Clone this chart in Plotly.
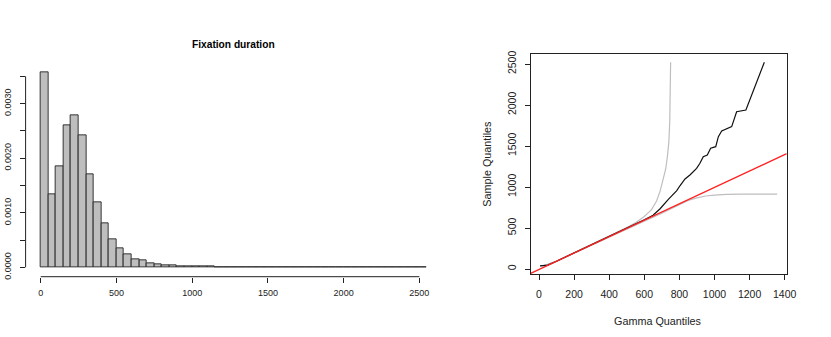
import plotly.graph_objects as go

# --- histogram of fixation durations (density, bins of 50 ms) ---
bin_edges = list(range(0, 2600, 50))
density = [0.00357, 0.00133, 0.00185, 0.00260, 0.00279, 0.00242, 0.00170, 0.00119,
           0.00080, 0.00052, 0.00034, 0.00023, 0.000146, 0.000128, 0.000073, 0.000049,
           0.000037, 0.000030, 0.000022, 0.000020, 0.000016, 0.000014, 0.000010, 0.000007,
           0.000004, 0.000003, 0.000003, 0.000007, 0.000003, 0.000007, 0.000002, 0.000002,
           0.000002, 0.000004, 0.000002, 0.000002, 0.000001, 0.000002, 0.000005, 0.000001,
           0.000001, 0.000001, 0.000002, 0.000001, 0.000001, 0.000001, 0.000001, 0.000001,
           0.000001, 0.000001, 0.000001]
hist_xticks = [0, 500, 1000, 1500, 2000, 2500]
hist_yticks = [0, 0.0005, 0.0010, 0.0015, 0.0020, 0.0025, 0.0030, 0.0035]
hist_ylabels = ["0.0000", "", "0.0010", "", "0.0020", "", "0.0030", ""]

# --- QQ plot against gamma quantiles ---
qq_x = [6, 50, 100, 200, 300, 400, 500, 550, 600, 650, 690, 737, 785, 803, 832, 860,
        898, 917, 936, 959, 978, 1007, 1022, 1041, 1098, 1126, 1179, 1284]
qq_y = [37, 48, 95, 195, 295, 392, 490, 545, 600, 655, 735, 850, 955, 1015, 1098, 1146,
        1228, 1289, 1370, 1390, 1472, 1492, 1614, 1683, 1736, 1918, 1939, 2521]
upper_x = [6, 25, 100, 200, 300, 400, 500, 550, 600, 640, 670, 690, 710, 722, 732, 740,
           745, 748, 750]
upper_y = [40, 40, 98, 200, 300, 400, 505, 565, 640, 720, 830, 950, 1100, 1220, 1380, 1550,
           1800, 2100, 2521]
lower_x = [6, 25, 100, 200, 300, 400, 500, 600, 700, 800, 850, 900, 950, 1000, 1069, 1150, 1357]
lower_y = [40, 40, 95, 192, 290, 388, 485, 582, 680, 785, 835, 868, 890, 902, 911, 912, 912]
line_intercept = -5
line_slope = 1.0
qq_xticks = [0, 200, 400, 600, 800, 1000, 1200, 1400]
qq_yticks = [0, 500, 1000, 1500, 2000, 2500]

W, H = 831, 337
FONT = "Liberation Sans, Arial, sans-serif"
INK = "#222222"

def py(pix):
    return 1 - pix / H

hx_range = [-100, 2600]
hy_range = [-0.000172, 0.00372]
qx_range = [-47.3, 1411.4]
qy_range = [-64.6, 2622]

fig = go.Figure()

centers = [e + 25 for e in bin_edges]
fig.add_trace(go.Bar(x=centers, y=density, width=50, marker=dict(color="#BEBEBE", line=dict(color=INK, width=0.9)),
                     xaxis="x", yaxis="y", showlegend=False, hoverinfo="skip"))

for xs, ys, col, w in [(upper_x, upper_y, "#BEBEBE", 1.2), (lower_x, lower_y, "#BEBEBE", 1.2),
                       (qq_x, qq_y, "#111111", 1.2)]:
    fig.add_trace(go.Scatter(x=xs, y=ys, mode="lines", line=dict(color=col, width=w),
                             xaxis="x2", yaxis="y2", showlegend=False, hoverinfo="skip"))

fig.add_trace(go.Scatter(x=qx_range, y=[line_intercept + line_slope * v for v in qx_range],
                         mode="lines", line=dict(color="#FF2020", width=1.3),
                         xaxis="x2", yaxis="y2", showlegend=False, hoverinfo="skip"))

tick_common = dict(ticks="outside", ticklen=5, tickcolor=INK, tickwidth=1, showgrid=False,
                   zeroline=False, automargin=False)

fig.update_layout(
    width=W, height=H, margin=dict(l=0, r=0, t=0, b=0),
    paper_bgcolor="white", plot_bgcolor="white", bargap=0,
    font=dict(family=FONT, color=INK),
    xaxis=dict(domain=[25.6 / W, 434.5 / W], range=hx_range, tickvals=hist_xticks,
               tickfont=dict(size=9), showline=False, ticklabelstandoff=2, anchor="y",
               **tick_common),
    yaxis=dict(domain=[py(276.7), py(64.3)], range=hy_range, tickvals=hist_yticks,
               ticktext=hist_ylabels, tickangle=-90, tickfont=dict(size=9), showline=False,
               ticklabelstandoff=5, anchor="x", **tick_common),
    xaxis2=dict(domain=[530.7 / W, 786.7 / W], range=qx_range, tickvals=qq_xticks,
                tickfont=dict(size=10.5), showline=True, mirror=True, linecolor=INK, linewidth=1,
                ticklabelstandoff=5, anchor="y2", **tick_common),
    yaxis2=dict(domain=[py(274.3), py(54)], range=qy_range, tickvals=qq_yticks,
                tickangle=-90, tickfont=dict(size=10.5), showline=True, mirror=True,
                linecolor=INK, linewidth=1, ticklabelstandoff=5, anchor="x2", **tick_common),
    shapes=[
        dict(type="line", xref="x", yref="paper", x0=hist_xticks[0], x1=hist_xticks[-1],
             y0=py(276.7), y1=py(276.7), line=dict(color=INK, width=1)),
        dict(type="line", xref="paper", yref="y", x0=25.6 / W, x1=25.6 / W,
             y0=hist_yticks[0], y1=hist_yticks[-1], line=dict(color=INK, width=1)),
    ],
    annotations=[
        dict(text="<b>Fixation duration</b>", x=233.3 / W, y=py(44), xref="paper", yref="paper",
             showarrow=False, font=dict(size=10.2, color="black"), xanchor="center", yanchor="middle"),
        dict(text="Gamma Quantiles", x=658 / W, y=py(320.7), xref="paper", yref="paper",
             showarrow=False, font=dict(size=10.8), xanchor="center", yanchor="middle"),
        dict(text="Sample Quantiles", x=486.7 / W, y=py(164), xref="paper", yref="paper",
             showarrow=False, font=dict(size=10.8), textangle=-90, xanchor="center", yanchor="middle"),
    ],
)

# the browser's default 8px body margin would push the figure off its pixel grid
fig.write_html("out.html", config={"displayModeBar": False},
               post_script="document.body.style.margin = '0';")
